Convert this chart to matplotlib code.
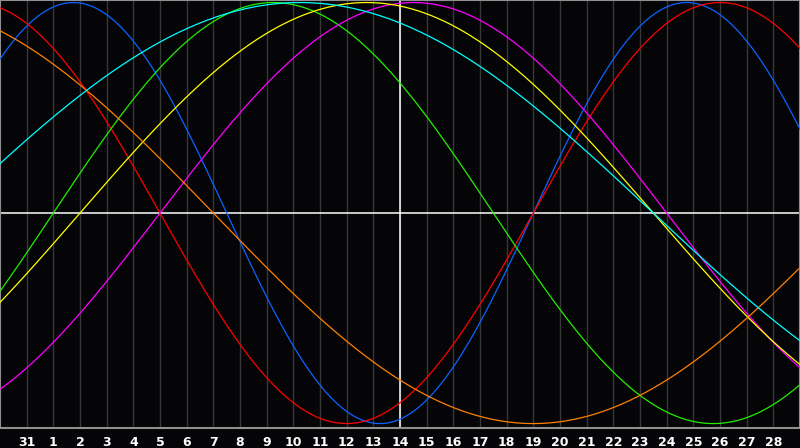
import numpy as np
import matplotlib
matplotlib.use("Agg")
import matplotlib.pyplot as plt

# day labels along the bottom (one per grid line)
day_labels = ["31"] + [str(d) for d in range(1, 29)]
today_index = 15  # day 14

# cycles: length in days, index where the cycle crosses zero going up
cycle_names = ["physical", "emotional", "intellectual", "intuitive",
               "aesthetic", "awareness", "spiritual"]
cycle_days = [23, 28, 33, 38, 43, 48, 53]
cycle_start = [20.0, 20.0, 2.0, 6.0, 3.0, -16.0, -2.0]
cycle_colors = ["#0a64ff", "#ff0000", "#22ee00", "#ff00ff",
                "#ffff00", "#ff8000", "#00ffff"]

bg = "#050508"

fig = plt.figure(figsize=(8, 4.48), dpi=100, facecolor=bg)
ax = fig.add_axes([0, 20 / 448, 1, 428 / 448])
ax.set_facecolor(bg)

t = np.linspace(0, 30, 1200)
for name, period, start, col in zip(cycle_names, cycle_days, cycle_start, cycle_colors):
    ax.plot(t, np.sin(2 * np.pi * (t - start) / period), color=col, lw=0.9, label=name, zorder=3)

# day grid
for i in range(1, 30):
    ax.axvline(i, color="#383838", lw=1, zorder=1)

ax.axhline(0, color="white", lw=1.1, zorder=2)
ax.axvline(today_index, color="white", lw=1.1, zorder=2)

ax.set_xlim(0, 30)
ax.set_ylim(-1.021, 1.012)
ax.set_yticks([])
ax.set_xticks(range(1, 30))
ax.set_xticklabels(day_labels, color="white", fontsize=9, fontweight="bold")
ax.tick_params(axis="x", length=0, pad=6)
for s in ax.spines.values():
    s.set_color("#909090")
    s.set_linewidth(1.5)

fig.savefig("out.png", dpi=100, facecolor=bg)
